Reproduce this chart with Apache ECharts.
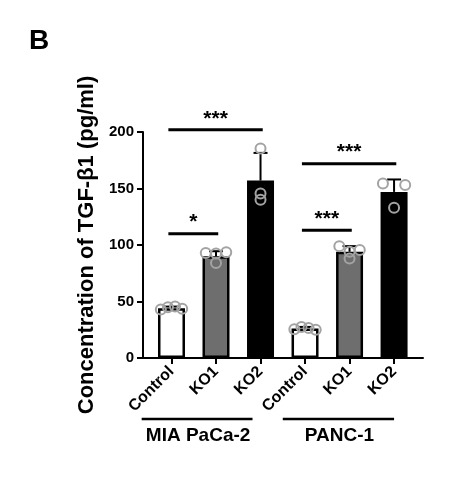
<!DOCTYPE html>
<html><head><meta charset="utf-8">
<script src="https://cdn.jsdelivr.net/npm/echarts@6/dist/echarts.min.js"></script>
<style>html,body{margin:0;padding:0;background:#fff}#c{width:466px;height:484px}</style>
</head><body><div id="c"></div>
<script>
// ---- data ----
const categories = ['Control','KO1','KO2','Control','KO1','KO2'];
const groups = ['MIA PaCa-2','PANC-1'];
const means = [44, 90, 157, 26, 94, 147];
const sds = [1.5, 4.5, 24.5, 1.5, 5, 11];
const points = [
  [43, 45, 45.5, 43.5],
  [93, 92.5, 93.5, 84],
  [185.5, 145.5, 140],
  [25.5, 27.5, 26.5, 25],
  [99, 94, 95.5, 88],
  [154.5, 153, 133]
];
const sigPairs = [[0,2],[0,1],[3,5],[3,4]];
const sigHeights = [202, 110, 172, 113];
const sigLabels = ['***','*','***','***'];

// ---- layout (not data) ----
const groupSpans = [[-0.67, 1.82], [2.5, 5.0]];
const barColors = ['#ffffff','#6e6e6e','#000000','#ffffff','#6e6e6e','#000000'];
const FONT = 'Arial, "Liberation Sans", sans-serif';

// symmetric row-based spreading of overlapping points
const scatterData = [];
points.forEach((arr, i) => {
  const idx = arr.map((v, k) => k).sort((a, b) => arr[a] - arr[b]);
  const clusters = [];
  idx.forEach(k => {
    const last = clusters[clusters.length - 1];
    if (last && arr[k] - arr[last[last.length - 1]] < 5) last.push(k);
    else clusters.push([k]);
  });
  clusters.forEach(c => {
    c.sort((a, b) => a - b);
    const n = c.length;
    const s = n === 2 ? 0.5 : (n === 3 ? 0.23 : 0.16);
    c.forEach((k, j) => scatterData.push([i + (j - (n - 1) / 2) * s, arr[k]]));
  });
});

const chart = echarts.init(document.getElementById('c'), null, {renderer: 'canvas'});
chart.setOption({
  animation: false,
  backgroundColor: '#fff',
  title: {text: 'B', left: 24, top: 22, textStyle: {fontFamily: FONT, fontSize: 28, fontWeight: 'bold', color: '#000'}},
  grid: {left: 143, right: 43, top: 132, bottom: 126},
  xAxis: {
    type: 'value', min: -0.64, max: 5.65,
    splitLine: {show: false},
    axisLine: {show: true, onZero: false, lineStyle: {color: '#000', width: 2}},
    axisTick: {show: true, customValues: [0,1,2,3,4,5], length: 6, lineStyle: {color: '#000', width: 2}},
    axisLabel: {customValues: [0,1,2,3,4,5], formatter: v => categories[Math.round(v)], rotate: 45, margin: 11,
      fontFamily: FONT, fontSize: 16, fontWeight: 'bold', color: '#000'}
  },
  yAxis: {
    type: 'value', min: 0, max: 200, interval: 50,
    name: 'Concentration of TGF-β1 (pg/ml)', nameLocation: 'middle', nameGap: 45, nameRotate: 90,
    nameTextStyle: {fontFamily: FONT, fontSize: 22, fontWeight: 'bold', color: '#000'},
    splitLine: {show: false},
    axisLine: {show: true, onZero: false, lineStyle: {color: '#000', width: 2}},
    axisTick: {show: true, length: 6, lineStyle: {color: '#000', width: 2}},
    axisLabel: {fontFamily: FONT, fontSize: 15, fontWeight: 'bold', color: '#000', margin: 9}
  },
  series: [
    {
      type: 'bar', barWidth: 27,
      data: means.map((m, i) => ({value: [i, m], itemStyle: {color: barColors[i]}})),
      itemStyle: {borderColor: '#000', borderWidth: 2.5}, z: 2
    },
    {
      type: 'custom', z: 3,
      data: means.map((m, i) => [i, m, m + sds[i]]),
      renderItem: (params, api) => {
        const b = api.coord([api.value(0), api.value(1)]);
        const t = api.coord([api.value(0), api.value(2)]);
        const half = 7;
        return {type: 'group', children: [
          {type: 'line', shape: {x1: b[0], y1: b[1], x2: t[0], y2: t[1]}, style: {stroke: '#000', lineWidth: 2}},
          {type: 'line', shape: {x1: t[0]-half, y1: t[1], x2: t[0]+half, y2: t[1]}, style: {stroke: '#000', lineWidth: 2}}
        ]};
      }
    },
    {
      type: 'scatter', symbol: 'circle', symbolSize: 10, z: 4,
      data: scatterData,
      itemStyle: {color: 'rgba(0,0,0,0)', borderColor: '#a3a3a3', borderWidth: 2, opacity: 1}
    },
    {
      type: 'custom', z: 5, clip: false,
      data: sigPairs.map((p, k) => [p[0] - 0.07, p[1] + 0.05, sigHeights[k], k]),
      renderItem: (params, api) => {
        const a = api.coord([api.value(0), api.value(2)]);
        const b = api.coord([api.value(1), api.value(2)]);
        const k = api.value(3);
        return {type: 'group', children: [
          {type: 'line', shape: {x1: a[0], y1: a[1], x2: b[0], y2: b[1]}, style: {stroke: '#000', lineWidth: 3}},
          {type: 'text', x: (a[0]+b[0])/2, y: a[1] - 11, style: {text: sigLabels[k], textAlign: 'center', textVerticalAlign: 'middle',
            font: 'bold 21px ' + FONT, fill: '#000'}}
        ]};
      }
    },
    {
      type: 'custom', z: 5, clip: false,
      data: groupSpans.map((s, k) => [s[0], s[1], k]),
      renderItem: (params, api) => {
        const a = api.coord([api.value(0), 0]);
        const b = api.coord([api.value(1), 0]);
        const k = api.value(2);
        const ly = a[1] + 61;
        return {type: 'group', children: [
          {type: 'line', shape: {x1: a[0], y1: ly, x2: b[0], y2: ly}, style: {stroke: '#000', lineWidth: 2.5}},
          {type: 'text', x: (a[0]+b[0])/2 + 1, y: ly + 17, style: {text: groups[k], textAlign: 'center', textVerticalAlign: 'middle',
            font: 'bold 19px ' + FONT, fill: '#000'}}
        ]};
      }
    }
  ]
});
</script></body></html>
